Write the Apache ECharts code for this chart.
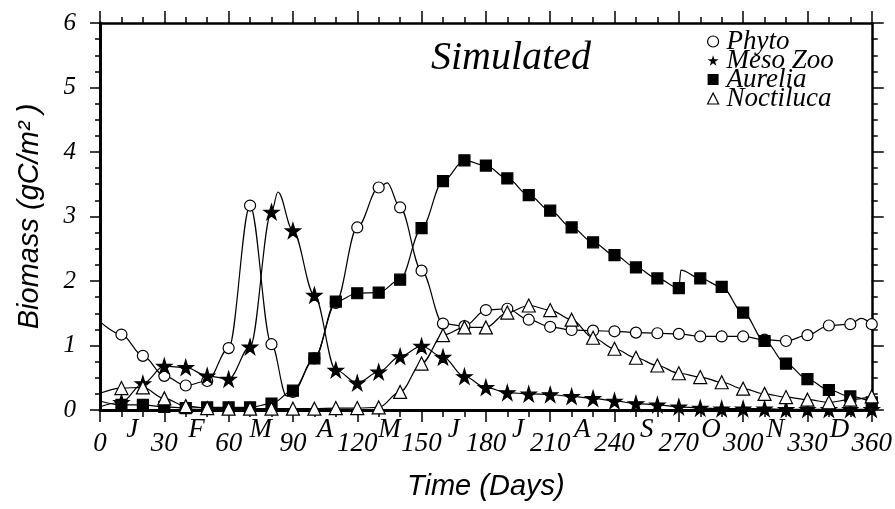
<!DOCTYPE html>
<html>
<head>
<meta charset="utf-8">
<script src="https://cdn.jsdelivr.net/npm/echarts@6/dist/echarts.min.js"></script>
<style>html,body{margin:0;padding:0;background:#fff;}#c{width:895px;height:509px;}</style>
</head>
<body>
<div id="c"></div>
<script>
const days = [0,10,20,30,40,50,60,70,80,90,100,110,120,130,140,150,160,170,180,190,200,210,220,230,240,250,260,270,280,290,300,310,320,330,340,350,360];
const phyto = [1.37,1.17,0.84,0.53,0.38,0.45,0.96,3.17,1.02,0.28,0.80,1.66,2.83,3.45,3.14,2.16,1.34,1.30,1.55,1.57,1.40,1.29,1.24,1.23,1.22,1.20,1.19,1.18,1.14,1.14,1.14,1.09,1.07,1.16,1.31,1.33,1.33];
const phytoExtra = [[87,0.22],[134,3.52],[355,1.42]];
const meso = [0.05,0.12,0.41,0.68,0.66,0.53,0.48,0.98,3.07,2.78,1.78,0.62,0.42,0.59,0.83,0.99,0.82,0.52,0.35,0.27,0.25,0.24,0.21,0.18,0.14,0.10,0.08,0.05,0.03,0.02,0.02,0.02,0.01,0.01,0.01,0.01,0.01];
const mesoExtra = [[83,3.38]];
const aurelia = [0.14,0.08,0.08,0.05,0.03,0.04,0.04,0.04,0.10,0.30,0.80,1.68,1.81,1.82,2.02,2.82,3.55,3.87,3.79,3.59,3.33,3.09,2.83,2.60,2.40,2.21,2.04,1.89,2.04,1.91,1.51,1.07,0.72,0.48,0.31,0.21,0.12];
const aureliaExtra = [[271,2.17]];
const noct = [0.26,0.34,0.35,0.18,0.06,0.03,0.02,0.02,0.02,0.02,0.02,0.03,0.03,0.04,0.28,0.72,1.16,1.28,1.28,1.51,1.62,1.55,1.40,1.12,0.95,0.81,0.69,0.57,0.51,0.43,0.33,0.25,0.20,0.16,0.12,0.16,0.21];
const noctExtra = [];
const monthLabels = ['J','F','M','A','M','J','J','A','S','O','N','D'];
const seriesNames = ['Phyto','Meso Zoo','Aurelia','Noctiluca'];

const STAR = 'path://M50,0 L61,35 L98,35 L68,57 L79,91 L50,70 L21,91 L32,57 L2,35 L39,35 Z';

function build(vals, extra) {
  const pts = days.map((d, i) => i === 0 ? {value:[d, vals[i]], symbol:'none'} : {value:[d, vals[i]]});
  extra.forEach(e => pts.push({value:[e[0], e[1]], symbol:'none'}));
  pts.sort((a, b) => a.value[0] - b.value[0]);
  return pts;
}

const serif = 'Liberation Serif';
const sans = 'Liberation Sans';

function mkSeries(name, vals, extra, symbol, size, fill) {
  return {
    name: name, type: 'line', data: build(vals, extra),
    smooth: 0.35, smoothMonotone: 'x',
    symbol: symbol, symbolSize: size, showAllSymbol: true,
    lineStyle: {color: '#000', width: 1.2},
    itemStyle: {color: fill, borderColor: '#000', borderWidth: 1.2},
    emphasis: {disabled: true}
  };
}

const chart = echarts.init(document.getElementById('c'), null, {renderer: 'canvas'});
chart.setOption({
  animation: false,
  backgroundColor: '#fff',
  title: {
    text: 'Simulated', left: 426, top: 33,
    textStyle: {fontFamily: serif, fontStyle: 'italic', fontWeight: 'normal', fontSize: 40, color: '#000'}
  },
  legend: {
    orient: 'vertical', left: 702, top: 23, itemGap: -8, itemWidth: 11, itemHeight: 11,
    textStyle: {fontFamily: serif, fontStyle: 'italic', fontSize: 27, color: '#000', padding: [0, 0, 0, 3]},
    data: [
      {name: seriesNames[0], icon: 'circle', itemStyle: {color: '#fff', borderColor: '#000', borderWidth: 1.2}},
      {name: seriesNames[1], icon: STAR, itemStyle: {color: '#000', borderWidth: 0}},
      {name: seriesNames[2], icon: 'rect', itemStyle: {color: '#000', borderWidth: 0}},
      {name: seriesNames[3], icon: 'triangle', itemStyle: {color: '#fff', borderColor: '#000', borderWidth: 1.2}}
    ]
  },
  grid: {left: 100, right: 18, top: 23, bottom: 99},
  xAxis: [
    {
      type: 'value', position: 'bottom', min: 0, max: 360, interval: 30,
      name: 'Time (Days)', nameLocation: 'middle', nameGap: 62,
      nameTextStyle: {fontFamily: sans, fontStyle: 'italic', fontSize: 29, color: '#000'},
      axisLine: {show: true, onZero: false, lineStyle: {color: '#000', width: 3}},
      axisTick: {show: true, length: 12, lineStyle: {color: '#000', width: 1.5}},
      minorTick: {show: true, splitNumber: 3, length: 7, lineStyle: {color: '#000', width: 1.5}},
      splitLine: {show: false},
      axisLabel: {showMinLabel: true, showMaxLabel: true, margin: 20, fontFamily: serif, fontStyle: 'italic', fontSize: 27, color: '#000'}
    },
    {
      type: 'value', position: 'bottom', min: 0, max: 360, interval: 15,
      axisLine: {show: false}, axisTick: {show: false}, splitLine: {show: false},
      axisLabel: {margin: 6, fontFamily: serif, fontStyle: 'italic', fontSize: 27, color: '#000',
        formatter: v => (v % 30 === 15) ? monthLabels[(v - 15) / 30] : ''}
    },
    {
      type: 'value', position: 'top', min: 0, max: 360, interval: 30,
      axisLine: {show: true, onZero: false, lineStyle: {color: '#000', width: 2.5}},
      axisTick: {show: true, length: 12, lineStyle: {color: '#000', width: 1.5}},
      minorTick: {show: true, splitNumber: 3, length: 6, lineStyle: {color: '#000', width: 1.5}},
      splitLine: {show: false}, axisLabel: {show: false}
    }
  ],
  yAxis: [
    {
      type: 'value', position: 'left', min: 0, max: 6, interval: 1,
      name: 'Biomass (gC/m² )', nameLocation: 'middle', nameGap: 56,
      nameTextStyle: {fontFamily: sans, fontStyle: 'italic', fontSize: 29, color: '#000'},
      axisLine: {show: true, onZero: false, lineStyle: {color: '#000', width: 3}},
      axisTick: {show: true, length: 10, lineStyle: {color: '#000', width: 1.5}},
      minorTick: {show: true, splitNumber: 4, length: 5, lineStyle: {color: '#000', width: 1.5}},
      splitLine: {show: false},
      axisLabel: {margin: 24, fontFamily: serif, fontStyle: 'italic', fontSize: 25, color: '#000'}
    },
    {
      type: 'value', position: 'right', min: 0, max: 6, interval: 1,
      axisLine: {show: true, onZero: false, lineStyle: {color: '#000', width: 2.5}},
      axisTick: {show: true, length: 12, lineStyle: {color: '#000', width: 1.5}},
      minorTick: {show: true, splitNumber: 4, length: 6, lineStyle: {color: '#000', width: 1.5}},
      splitLine: {show: false}, axisLabel: {show: false}
    }
  ],
  series: [
    mkSeries(seriesNames[0], phyto, phytoExtra, 'circle', 11, '#fff'),
    mkSeries(seriesNames[1], meso, mesoExtra, STAR, 15, '#000'),
    mkSeries(seriesNames[2], aurelia, aureliaExtra, 'rect', 11, '#000'),
    mkSeries(seriesNames[3], noct, noctExtra, 'triangle', 13, '#fff')
  ]
});
</script>
</body>
</html>
